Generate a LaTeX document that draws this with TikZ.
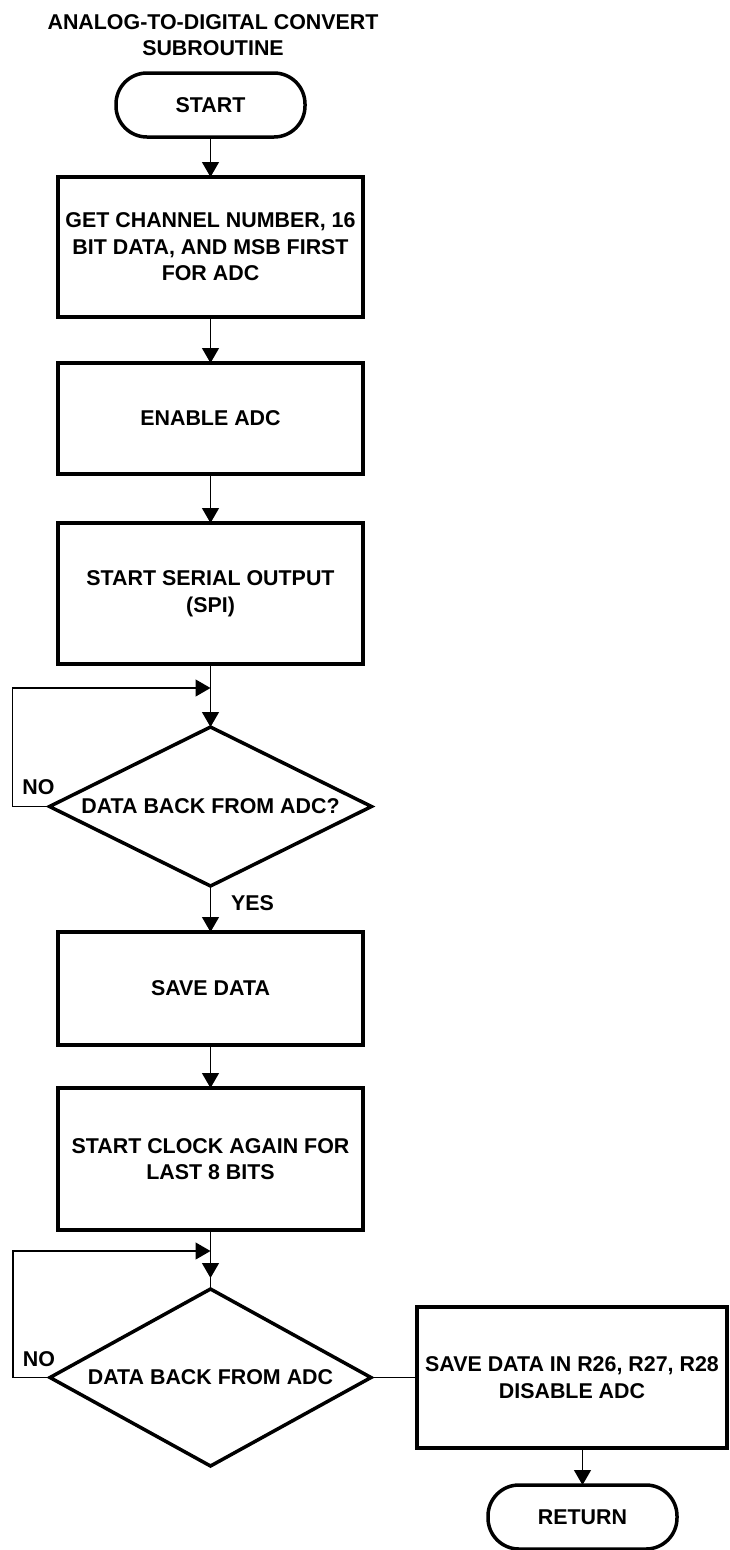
\documentclass[tikz,border=0pt]{standalone}
\usepackage{fontspec}
\setmainfont{Liberation Sans}
\usepackage{tikz}
\usetikzlibrary{shapes.geometric, arrows.meta, positioning}
\newcommand{\chartfont}{\fontsize{21.4pt}{26.5pt}\selectfont\bfseries}
\tikzset{
  procbox/.style={rectangle, draw=black, align=center, minimum width=305pt,
    font=\chartfont, line width=3.5pt, outer sep=0pt, inner sep=0pt},
  termbox/.style={rectangle, draw=black, align=center, minimum width=189pt,
    minimum height=64pt, rounded corners=31pt, font=\chartfont,
    line width=3.5pt, outer sep=0pt},
  decbox/.style={diamond, draw=black, align=center, aspect=2, inner sep=0pt,
    font=\chartfont, line width=3.5pt, outer sep=0pt},
  lbl/.style={font=\chartfont, inner sep=0pt},
  arrow/.style={-{Triangle[length=15pt,width=17pt]}, line width=1.3pt, color=black},
  line/.style={line width=1.3pt, color=black}
}

\begin{document}
\begin{tikzpicture}[x=1pt, y=1pt]
  \useasboundingbox (0,0) rectangle (730,-1550);
  \node[termbox] (start) at (210.5,-105) {START};
  \node[lbl, align=center, above=17pt of start, xshift=2.5pt] (title)
    {ANALOG-TO-DIGITAL CONVERT\\SUBROUTINE};
  \node[procbox, minimum height=140pt, below=40pt of start] (getch)
    {GET CHANNEL NUMBER, 16\\BIT DATA, AND MSB FIRST\\FOR ADC};
  \node[procbox, minimum height=111pt, below=46pt of getch] (enadc) {ENABLE ADC};
  \node[procbox, minimum height=141pt, below=49pt of enadc] (spi)
    {START SERIAL OUTPUT\\(SPI)};
  \node[decbox, minimum width=322pt, minimum height=159pt, below=63pt of spi] (back1)
    {DATA BACK FROM ADC?};
  \node[procbox, minimum height=113pt, below=46pt of back1] (save) {SAVE DATA};
  \node[procbox, minimum height=142pt, below=43pt of save] (clock)
    {START CLOCK AGAIN FOR\\LAST 8 BITS};
  \node[decbox, minimum width=321pt, minimum height=177pt, below=59pt of clock] (back2)
    {DATA BACK FROM ADC};
  \node[procbox, minimum width=310pt, minimum height=141pt, right=46pt of back2] (store)
    {SAVE DATA IN R26, R27, R28\\DISABLE ADC};
  \node[termbox, below=37pt of store, xshift=10.5pt] (ret) {RETURN};

  \coordinate[below=24pt of spi] (loop1);
  \coordinate[below=21pt of clock] (loop2);

  % main flow
  \draw[arrow] (start) -- (getch);
  \draw[arrow] (getch) -- (enadc);
  \draw[arrow] (enadc) -- (spi);
  \draw[arrow] (spi) -- (back1);
  \draw[arrow] (back1) -- (save);
  \draw[arrow] (save) -- (clock);
  \draw[line] (clock) -- (back2);
  \draw[arrow, shorten >=11pt] (loop2) -- (back2);
  \draw[line] (back2) -- (store);
  \draw[arrow] (ret.north |- store.south) -- (ret);

  % wait loops
  \draw[arrow] (back1.west) -- ++(-37,0) |- (loop1);
  \draw[arrow] (back2.west) -- ++(-37,0) |- (loop2);

  \node[lbl] (no1) at ([xshift=-11pt, yshift=19pt]back1.west) {NO};
  \node[lbl] (no2) at ([xshift=-11pt, yshift=18pt]back2.west) {NO};
  \node[lbl] (yes1) at ([xshift=42pt, yshift=-17pt]back1.south) {YES};
\end{tikzpicture}
\end{document}
